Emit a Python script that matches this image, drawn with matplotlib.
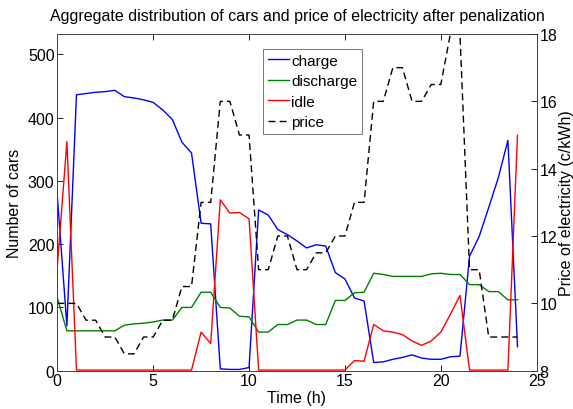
import matplotlib
matplotlib.use("Agg")
import matplotlib.pyplot as plt
import numpy as np

plt.rcParams['font.family'] = ['Liberation Sans', 'DejaVu Sans']
plt.rcParams['font.size'] = 11.5

# -------------------------
# Data (half-hour samples)
# -------------------------
hours = [0, 0.5, 1, 1.5, 2, 2.5, 3, 3.5, 4, 4.5, 5, 5.5, 6, 6.5, 7, 7.5, 8,
         8.5, 9, 9.5, 10, 10.5, 11, 11.5, 12, 12.5, 13, 13.5, 14, 14.5, 15,
         15.5, 16, 16.5, 17, 17.5, 18, 18.5, 19, 19.5, 20, 20.5, 21, 21.5,
         22, 22.5, 23, 23.5, 24]

charge = [276, 71, 436, 438, 440, 441, 443, 433, 431, 428, 424, 412, 397,
          361, 344, 233, 232, 3, 2, 2, 5, 254, 246, 223, 215, 205, 194, 199,
          197, 155, 145, 115, 110, 13, 14, 18, 21, 25, 20, 18, 18, 22, 23,
          181, 212, 258, 305, 364, 38]

discharge = [115, 63, 63, 63, 63, 63, 63, 72, 74, 75, 77, 80, 80, 100, 100,
             124, 124, 100, 99, 86, 85, 61, 61, 73, 73, 80, 80, 73, 73, 111,
             111, 123, 124, 154, 152, 149, 149, 149, 149, 153, 154, 152, 152,
             136, 136, 125, 125, 112, 112]

idle = [165, 362, 1, 1, 1, 1, 1, 1, 1, 1, 1, 1, 1, 1, 1, 61, 43, 270, 249,
        250, 240, 1, 1, 1, 1, 1, 1, 1, 1, 1, 1, 16, 15, 73, 63, 61, 57, 47,
        40, 47, 61, 89, 119, 1, 1, 1, 1, 1, 372]

price = [10, 10, 10, 9.5, 9.5, 9, 9, 8.5, 8.5, 9, 9, 9.5, 9.5, 10.5, 10.5,
         13, 13, 16, 16, 15, 15, 11, 11, 12, 12, 11, 11, 11.5, 11.5, 12, 12,
         13, 13, 16, 16, 17, 17, 16, 16, 16.5, 16.5, 18, 18, 11, 11, 9, 9,
         9, 9]

# -------------------------
# Figure
# -------------------------
fig = plt.figure(figsize=(5.73, 4.10), dpi=100)
ax = fig.add_axes([0.100, 0.0934, 0.8366, 0.8212])
ax2 = ax.twinx()

l1, = ax.plot(hours, charge, color=(0, 0, 1), lw=1.0, label="charge")
l2, = ax.plot(hours, discharge, color=(0, 0.5, 0), lw=1.0, label="discharge")
l3, = ax.plot(hours, idle, color=(1, 0, 0), lw=1.0, label="idle")
l4, = ax2.plot(hours, price, color="black", lw=1.0, linestyle=(0, (5, 3)),
               label="price")

ax.set_xlim(0, 25)
ax.set_ylim(0, 532)
ax.set_xticks([0, 5, 10, 15, 20, 25])
ax.set_yticks([0, 100, 200, 300, 400, 500])
ax2.set_ylim(8, 18)
ax2.set_yticks([8, 10, 12, 14, 16, 18])

ax.tick_params(direction="in", top=True, length=4, width=0.6, pad=2)
ax2.tick_params(direction="in", length=4, width=0.6, pad=2)
for a in (ax, ax2):
    for s in a.spines.values():
        s.set_linewidth(0.6)
        s.set_color("#404040")

ax.set_xlabel("Time (h)", labelpad=1)
ax.set_ylabel("Number of cars", labelpad=4)
ax2.set_ylabel("Price of electricity (c/kWh)", labelpad=1)
ax.set_title("Aggregate distribution of cars and price of electricity after penalization",
             fontsize=11.5, pad=10)

leg = ax2.legend(handles=[l1, l2, l3, l4], loc="upper left",
                 bbox_to_anchor=(0.43, 0.955), fancybox=False, framealpha=1,
                 edgecolor="#606060", handlelength=1.4, handletextpad=0.1,
                 borderpad=0.3, labelspacing=0.42, borderaxespad=0,
                 fontsize=11)
leg.get_frame().set_linewidth(0.6)

fig.savefig("out.png", dpi=100)
